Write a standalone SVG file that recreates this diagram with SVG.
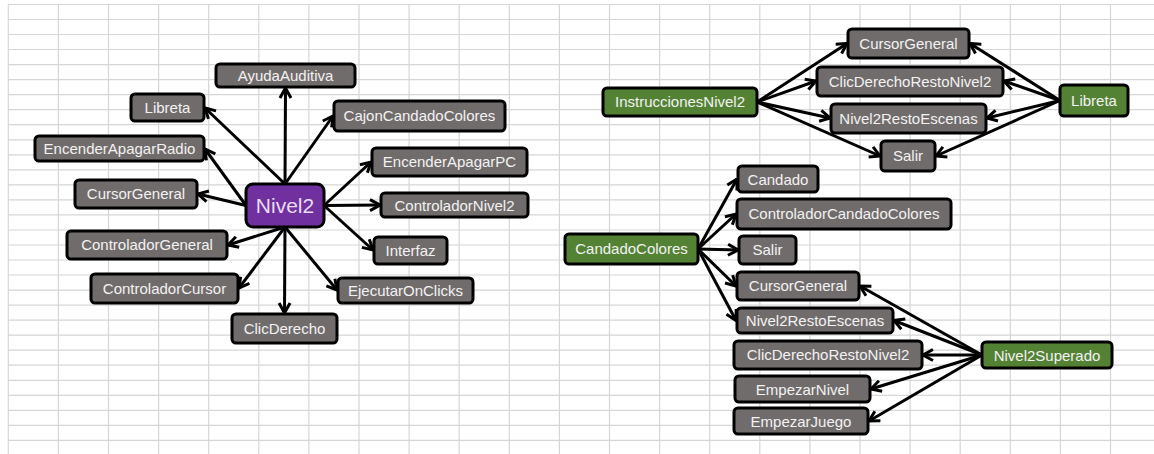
<svg xmlns="http://www.w3.org/2000/svg" width="1154" height="454" viewBox="0 0 1154 454">
<style>
.grid line{stroke:#d6d6d6;stroke-width:1.2}
.n rect{fill:#716c6c;stroke:#000;stroke-width:3}
.n text{font-family:"Liberation Sans",Arial,sans-serif;font-size:15px;fill:#f2f2f2;text-anchor:middle}
.g rect{fill:#548235}
.p rect{fill:#7030a0}
.p text{font-size:21px;fill:#e8def2}
.c line{stroke:#000;stroke-width:3;marker-end:url(#ah)}
</style>
<defs>
<marker id="ah" viewBox="0 0 12 14" refX="11" refY="7" markerWidth="12" markerHeight="14" markerUnits="userSpaceOnUse" orient="auto">
<path d="M1,1.5 L11,7 L1,12.5" fill="none" stroke="#000" stroke-width="3"/>
</marker>
</defs>
<rect width="1154" height="454" fill="#fff"/>
<g class="grid">
<line x1="8" y1="4.5" x2="1154" y2="4.5"/><line x1="8" y1="19.5" x2="1154" y2="19.5"/><line x1="8" y1="34.5" x2="1154" y2="34.5"/><line x1="8" y1="49.5" x2="1154" y2="49.5"/><line x1="8" y1="64.6" x2="1154" y2="64.6"/><line x1="8" y1="79.6" x2="1154" y2="79.6"/><line x1="8" y1="94.7" x2="1154" y2="94.7"/><line x1="8" y1="109.7" x2="1154" y2="109.7"/><line x1="8" y1="124.7" x2="1154" y2="124.7"/><line x1="8" y1="139.8" x2="1154" y2="139.8"/><line x1="8" y1="154.8" x2="1154" y2="154.8"/><line x1="8" y1="169.8" x2="1154" y2="169.8"/><line x1="8" y1="184.9" x2="1154" y2="184.9"/><line x1="8" y1="199.9" x2="1154" y2="199.9"/><line x1="8" y1="214.9" x2="1154" y2="214.9"/><line x1="8" y1="230" x2="1154" y2="230"/><line x1="8" y1="245" x2="1154" y2="245"/><line x1="8" y1="260" x2="1154" y2="260"/><line x1="8" y1="275" x2="1154" y2="275"/><line x1="8" y1="290.1" x2="1154" y2="290.1"/><line x1="8" y1="305.1" x2="1154" y2="305.1"/><line x1="8" y1="320.1" x2="1154" y2="320.1"/><line x1="8" y1="335.2" x2="1154" y2="335.2"/><line x1="8" y1="350.2" x2="1154" y2="350.2"/><line x1="8" y1="365.2" x2="1154" y2="365.2"/><line x1="8" y1="380.3" x2="1154" y2="380.3"/><line x1="8" y1="395.3" x2="1154" y2="395.3"/><line x1="8" y1="410.3" x2="1154" y2="410.3"/><line x1="8" y1="425.4" x2="1154" y2="425.4"/><line x1="8" y1="440.4" x2="1154" y2="440.4"/>
<line x1="8.3" y1="4.5" x2="8.3" y2="454"/><line x1="58.4" y1="4.5" x2="58.4" y2="454"/><line x1="108.5" y1="4.5" x2="108.5" y2="454"/><line x1="158.6" y1="4.5" x2="158.6" y2="454"/><line x1="208.7" y1="4.5" x2="208.7" y2="454"/><line x1="258.8" y1="4.5" x2="258.8" y2="454"/><line x1="308.9" y1="4.5" x2="308.9" y2="454"/><line x1="359" y1="4.5" x2="359" y2="454"/><line x1="409.1" y1="4.5" x2="409.1" y2="454"/><line x1="459.2" y1="4.5" x2="459.2" y2="454"/><line x1="509.3" y1="4.5" x2="509.3" y2="454"/><line x1="559.4" y1="4.5" x2="559.4" y2="454"/><line x1="609.5" y1="4.5" x2="609.5" y2="454"/><line x1="659.6" y1="4.5" x2="659.6" y2="454"/><line x1="709.7" y1="4.5" x2="709.7" y2="454"/><line x1="759.8" y1="4.5" x2="759.8" y2="454"/><line x1="809.9" y1="4.5" x2="809.9" y2="454"/><line x1="860" y1="4.5" x2="860" y2="454"/><line x1="910.1" y1="4.5" x2="910.1" y2="454"/><line x1="960.2" y1="4.5" x2="960.2" y2="454"/><line x1="1010.3" y1="4.5" x2="1010.3" y2="454"/><line x1="1060.4" y1="4.5" x2="1060.4" y2="454"/><line x1="1110.5" y1="4.5" x2="1110.5" y2="454"/>
</g>
<g id="connectors" class="c">
<line x1="285" y1="184" x2="285.5" y2="88"/>
<line x1="285" y1="184" x2="205" y2="108"/>
<line x1="246" y1="205.5" x2="205" y2="149"/>
<line x1="246" y1="205.5" x2="198" y2="194"/>
<line x1="285" y1="227" x2="228" y2="245"/>
<line x1="285" y1="227" x2="239" y2="288"/>
<line x1="285" y1="227" x2="284.5" y2="313"/>
<line x1="285" y1="227" x2="337" y2="290"/>
<line x1="324" y1="205.5" x2="373" y2="250"/>
<line x1="324" y1="205.5" x2="380" y2="205"/>
<line x1="324" y1="205.5" x2="371" y2="162"/>
<line x1="285" y1="184" x2="333" y2="116"/>
<line x1="757" y1="102" x2="847" y2="43.5"/>
<line x1="757" y1="102" x2="816" y2="81"/>
<line x1="757" y1="102" x2="830" y2="118"/>
<line x1="757" y1="102" x2="880" y2="156"/>
<line x1="1060" y1="100.5" x2="970" y2="43.5"/>
<line x1="1060" y1="100.5" x2="1004" y2="81"/>
<line x1="1060" y1="100.5" x2="987" y2="118"/>
<line x1="1060" y1="100.5" x2="936" y2="156"/>
<line x1="698" y1="249" x2="737" y2="179"/>
<line x1="698" y1="249" x2="736" y2="214"/>
<line x1="698" y1="249" x2="738" y2="250"/>
<line x1="698" y1="249" x2="736" y2="286"/>
<line x1="698" y1="249" x2="736" y2="320.5"/>
<line x1="982" y1="355" x2="860" y2="286"/>
<line x1="982" y1="355" x2="894" y2="320.5"/>
<line x1="982" y1="355" x2="923" y2="355"/>
<line x1="982" y1="355" x2="871" y2="389"/>
<line x1="982" y1="355" x2="869" y2="421"/>
</g>
<g id="nivel2" class="n p"><rect x="246" y="184" width="78" height="43" rx="7"/><text x="285" y="212.5">Nivel2</text></g>
<g id="ayudaAuditiva" class="n"><rect x="216" y="64" width="139" height="23" rx="4"/><text x="285.5" y="81">AyudaAuditiva</text></g>
<g id="libreta1" class="n"><rect x="131" y="94" width="73" height="27" rx="4"/><text x="167.5" y="113">Libreta</text></g>
<g id="encenderApagarRadio" class="n"><rect x="35" y="136" width="169" height="25" rx="4"/><text x="119.5" y="154">EncenderApagarRadio</text></g>
<g id="cursorGeneral1" class="n"><rect x="75" y="180" width="122" height="28" rx="4"/><text x="136" y="199">CursorGeneral</text></g>
<g id="controladorGeneral" class="n"><rect x="67" y="231" width="160" height="28" rx="4"/><text x="147" y="250">ControladorGeneral</text></g>
<g id="controladorCursor" class="n"><rect x="91" y="274" width="147" height="29" rx="4"/><text x="164.5" y="293.5">ControladorCursor</text></g>
<g id="clicDerecho" class="n"><rect x="232" y="314" width="105" height="29" rx="4"/><text x="284.5" y="333.5">ClicDerecho</text></g>
<g id="ejecutarOnClicks" class="n"><rect x="338" y="278" width="135" height="25" rx="4"/><text x="405.5" y="296">EjecutarOnClicks</text></g>
<g id="interfaz" class="n"><rect x="374" y="237" width="73" height="27" rx="4"/><text x="410.5" y="256">Interfaz</text></g>
<g id="controladorNivel2" class="n"><rect x="381" y="193" width="147" height="24" rx="4"/><text x="454.5" y="210.5">ControladorNivel2</text></g>
<g id="encenderApagarPC" class="n"><rect x="372" y="148" width="155" height="28" rx="4"/><text x="449.5" y="167">EncenderApagarPC</text></g>
<g id="cajonCandadoColores" class="n"><rect x="334" y="101" width="171" height="30" rx="4"/><text x="419.5" y="121">CajonCandadoColores</text></g>
<g id="instruccionesNivel2" class="n g"><rect x="603" y="88" width="154" height="28" rx="4"/><text x="680" y="107">InstruccionesNivel2</text></g>
<g id="cursorGeneral2" class="n"><rect x="848" y="29" width="121" height="29" rx="4"/><text x="908.5" y="48.5">CursorGeneral</text></g>
<g id="clicDerechoRestoNivel2a" class="n"><rect x="817" y="67" width="186" height="29" rx="4"/><text x="910" y="86.5">ClicDerechoRestoNivel2</text></g>
<g id="nivel2RestoEscenas1" class="n"><rect x="831" y="104" width="155" height="29" rx="4"/><text x="908.5" y="123.5">Nivel2RestoEscenas</text></g>
<g id="salir1" class="n"><rect x="881" y="141" width="54" height="30" rx="4"/><text x="908" y="161">Salir</text></g>
<g id="libreta2" class="n g"><rect x="1060" y="85" width="68" height="31" rx="4"/><text x="1094" y="105.5">Libreta</text></g>
<g id="candadoColores" class="n g"><rect x="565" y="234" width="133" height="30" rx="4"/><text x="631.5" y="254">CandadoColores</text></g>
<g id="candado" class="n"><rect x="738" y="166" width="80" height="26" rx="4"/><text x="778" y="184.5">Candado</text></g>
<g id="controladorCandadoColores" class="n"><rect x="737" y="199" width="214" height="30" rx="4"/><text x="844" y="219">ControladorCandadoColores</text></g>
<g id="salir2" class="n"><rect x="739" y="236" width="57" height="28" rx="4"/><text x="767.5" y="255">Salir</text></g>
<g id="cursorGeneral3" class="n"><rect x="737" y="272" width="122" height="28" rx="4"/><text x="798" y="291">CursorGeneral</text></g>
<g id="nivel2RestoEscenas2" class="n"><rect x="737" y="308" width="156" height="25" rx="4"/><text x="815" y="326">Nivel2RestoEscenas</text></g>
<g id="clicDerechoRestoNivel2b" class="n"><rect x="734" y="341" width="188" height="28" rx="4"/><text x="828" y="360">ClicDerechoRestoNivel2</text></g>
<g id="empezarNivel" class="n"><rect x="735" y="376" width="135" height="26" rx="4"/><text x="802.5" y="394.5">EmpezarNivel</text></g>
<g id="empezarJuego" class="n"><rect x="734" y="408" width="134" height="26" rx="4"/><text x="801" y="426.5">EmpezarJuego</text></g>
<g id="nivel2Superado" class="n g"><rect x="982" y="342" width="130" height="26" rx="4"/><text x="1047" y="360.5">Nivel2Superado</text></g>
</svg>
